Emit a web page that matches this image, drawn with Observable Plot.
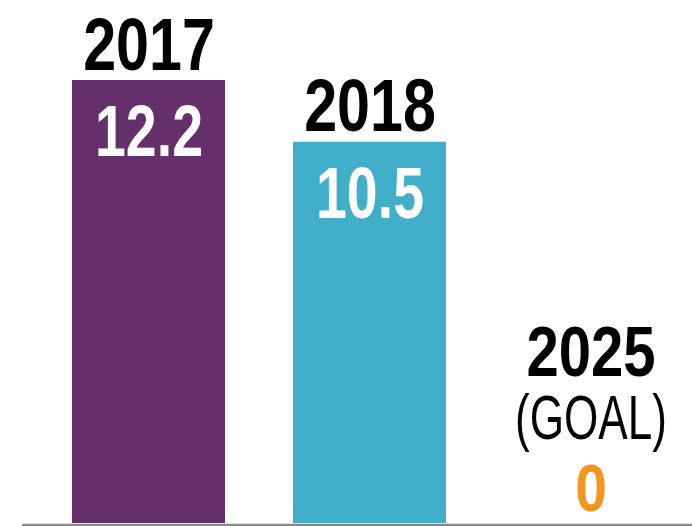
<!DOCTYPE html>
<html>
<head>
<meta charset="utf-8">
<script src="https://cdn.jsdelivr.net/npm/d3@7"></script>
<script src="https://cdn.jsdelivr.net/npm/@observablehq/plot@0.6"></script>
<style>
  html, body { margin: 0; padding: 0; background: #fff; }
  #chart svg { display: block; }
</style>
</head>
<body>
<div id="chart"></div>
<script>
const years = ["2017", "2018", "2025"];
const values = [12.2, 10.5, 0];
const valueLabels = ["12.2", "10.5", "0"];
const notes = ["", "", "(GOAL)"];
const colors = ["#652f6c", "#41afca", "#f7941d"];

const data = years.map((y, i) => ({
  year: y, value: values[i], label: valueLabels[i], note: notes[i], color: colors[i]
}));
const bars = data.filter(d => d.value > 0);
const goal = data.filter(d => d.value === 0);

const font = "'Liberation Sans', Arial, sans-serif";

const chart = Plot.plot({
  width: 692,
  height: 526,
  marginLeft: 22,
  marginRight: 0,
  marginTop: 0,
  marginBottom: 0,
  x: { domain: years, range: [72, 667], paddingInner: 0.3077, paddingOuter: 0, axis: null },
  y: { domain: [0, 12.2], range: [523, 80], axis: null },
  color: { type: "identity" },
  style: { fontFamily: font, background: "#fff" },
  marks: [
    Plot.barY(bars, { x: "year", y: "value", fill: "color" }),
    Plot.ruleY([0], { stroke: "#888", strokeWidth: 2.5, dy: 1.5 }),
    // year labels above bars
    Plot.text(bars, { x: "year", y: "value", text: "year", dy: -11, lineAnchor: "bottom",
      fontSize: 74, fontWeight: "bold", fill: "#000" }),
    // value labels inside bars
    Plot.text(bars, { x: "year", y: "value", text: "label", dy: 24, lineAnchor: "top",
      fontSize: 73, fontWeight: "bold", fill: "#fff" }),
    // goal year
    Plot.text(goal, { x: "year", y: "value", text: "year", dy: -148, lineAnchor: "bottom",
      fontSize: 70, fontWeight: "bold", fill: "#000" }),
    Plot.text(goal, { x: "year", y: "value", text: "note", dy: -85, lineAnchor: "bottom",
      fontSize: 63, fontWeight: "normal", fill: "#000" }),
    Plot.text(goal, { x: "year", y: "value", text: "label", dy: -13, lineAnchor: "bottom",
      fontSize: 67, fontWeight: "bold", fill: "color" })
  ]
});

// condense the glyphs horizontally to mimic the condensed typeface
const squeeze = [0.8, 0.76, 0.83, 0.7, 0.85];
d3.select(chart).selectAll('g[aria-label="text"]').each(function (_, gi) {
  const sx = squeeze[gi] ?? 0.8;
  d3.select(this).selectAll("text").each(function () {
    const t = d3.select(this);
    const tr = t.attr("transform");
    if (tr && /translate/.test(tr)) {
      t.attr("transform", tr + ` scale(${sx},1)`);
    } else {
      const x = +t.attr("x") || 0;
      t.attr("transform", `translate(${x},0) scale(${sx},1) translate(${-x},0)`);
    }
  });
});

document.getElementById("chart").appendChild(chart);
</script>
</body>
</html>
